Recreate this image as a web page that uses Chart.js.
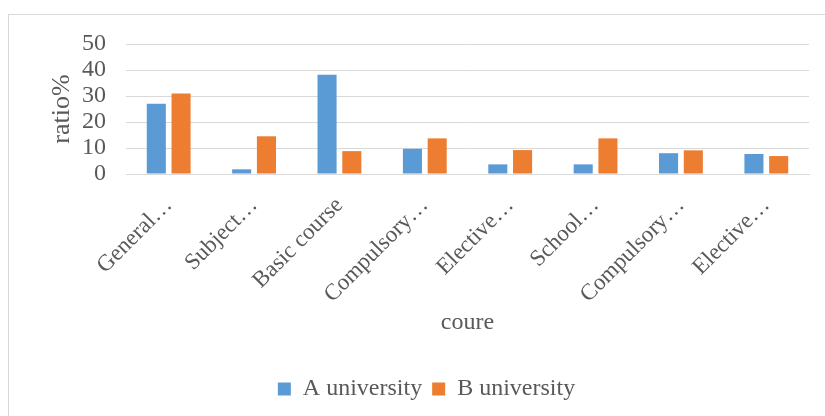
<!DOCTYPE html>
<html>
<head>
<meta charset="utf-8">
<script src="https://cdn.jsdelivr.net/npm/chart.js@4/dist/chart.umd.min.js"></script>
<style>
  html, body { margin: 0; padding: 0; background: #fff; }
  #wrap { position: relative; width: 825px; height: 416px; overflow: hidden; }
  #frame { position: absolute; left: 8px; top: 14px; width: 840px; height: 430px; border: 1px solid #d9d9d9; }
  #courseChart { position: absolute; left: 0; top: 0; }
</style>
</head>
<body>
<div id="wrap">
  <div id="frame"></div>
  <canvas id="courseChart" width="825" height="416"></canvas>
</div>
<script>
// Курсы и доли по двум университетам
const courses = ['General…', 'Subject…', 'Basic course', 'Compulsory…', 'Elective…', 'School…', 'Compulsory…', 'Elective…'];
const universityA = [27, 1.8, 38.2, 9.7, 3.7, 3.7, 8.0, 7.7];
const universityB = [31, 14.5, 8.8, 13.7, 9.2, 13.7, 9.1, 6.9];
const yTicks = [0, 10, 20, 30, 40, 50];

const textColor = '#595959';
const gridColor = '#d9d9d9';
const fontFamily = '"Liberation Serif", "Times New Roman", serif';
const fontSize = 24;

Chart.defaults.font.family = fontFamily;
Chart.defaults.color = textColor;

// сдвигаем легенду немного вправо, чтобы она стояла по центру рамки
const legendShift = {
    id: 'legendShift',
    afterLayout(chart) {
        chart.legend.left += 22;
        chart.legend.right += 22;
    }
};

const ctx = document.getElementById('courseChart').getContext('2d');

new Chart(ctx, {
    type: 'bar',
    data: {
        labels: courses,
        datasets: [{
            label: 'A university',
            data: universityA,
            backgroundColor: '#5b9bd5',
            categoryPercentage: 0.58,
            barPercentage: 0.77
        }, {
            label: 'B university',
            data: universityB,
            backgroundColor: '#ed7d31',
            categoryPercentage: 0.58,
            barPercentage: 0.77
        }]
    },
    plugins: [legendShift],
    options: {
        responsive: false,
        animation: false,
        layout: {
            padding: { left: 0, right: 16, top: 44, bottom: 5 }
        },
        plugins: {
            tooltip: { enabled: false },
            legend: {
                position: 'bottom',
                labels: {
                    boxWidth: 13,
                    boxHeight: 13,
                    padding: 10,
                    font: { size: fontSize }
                }
            }
        },
        scales: {
            x: {
                grid: { display: false },
                border: { color: gridColor, width: 1 },
                ticks: {
                    font: { size: 23 },
                    minRotation: 45,
                    maxRotation: 45,
                    autoSkip: false,
                    padding: 10
                },
                title: {
                    display: true,
                    text: 'coure',
                    font: { size: fontSize },
                    padding: { top: 4, bottom: 30 }
                },
                // высота оси подобрана так, чтобы ноль оказался на нужной линии
                afterFit: scale => { scale.height = 193; }
            },
            y: {
                min: 0,
                max: 50,
                afterBuildTicks: scale => {
                    scale.ticks = yTicks.map(v => ({ value: v }));
                },
                grid: { color: gridColor, lineWidth: 1, drawTicks: false },
                border: { display: false },
                ticks: {
                    font: { size: fontSize },
                    padding: 20,
                    autoSkip: false
                },
                title: {
                    display: true,
                    text: 'ratio%',
                    font: { size: 26 },
                    padding: { top: 47, bottom: 0 }
                },
                afterFit: scale => { scale.width = 126; }
            }
        }
    }
});
</script>
</body>
</html>
